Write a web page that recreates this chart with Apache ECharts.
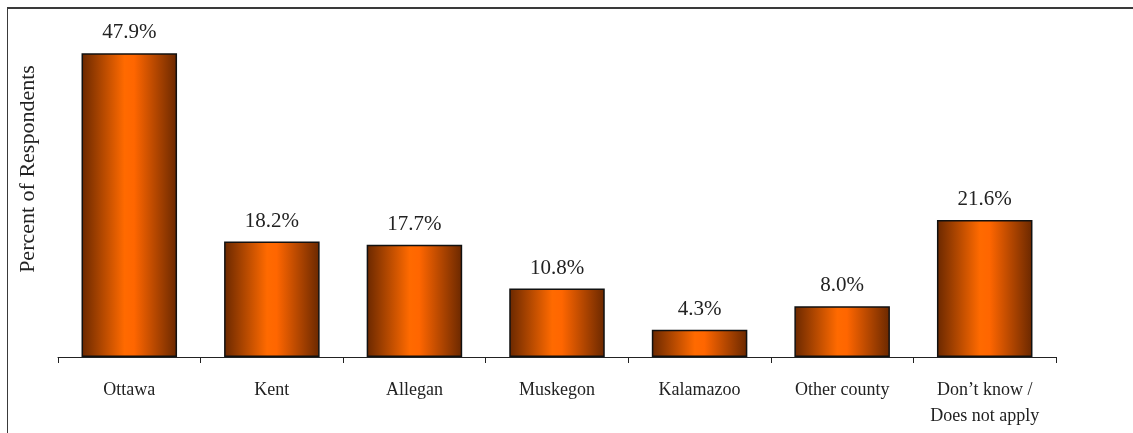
<!DOCTYPE html>
<html>
<head>
<meta charset="utf-8">
<script src="https://cdn.jsdelivr.net/npm/echarts@6/dist/echarts.min.js"></script>
<style>
  html, body { margin: 0; padding: 0; background: #fff; }
  #chart { width: 1133px; height: 433px; }
</style>
</head>
<body>
<div id="chart"></div>
<script>
// Données
const categories = ['Ottawa', 'Kent', 'Allegan', 'Muskegon', 'Kalamazoo', 'Other county', 'Don\u2019t know /\nDoes not apply'];
const pourcentages = [47.9, 18.2, 17.7, 10.8, 4.3, 8.0, 21.6];
const titreAxeY = 'Percent of Respondents';

const police = 'Liberation Serif';

const chart = echarts.init(document.getElementById('chart'));
const option = {
    backgroundColor: '#fff',
    animation: false,
    grid: { left: 58, right: 77, top: 40, bottom: 76 },
    graphic: [
        // cadre (haut et gauche)
        { type: 'line', shape: { x1: 7, y1: 8, x2: 1133, y2: 8 }, style: { stroke: '#3a3a3a', lineWidth: 2 } },
        { type: 'line', shape: { x1: 7.5, y1: 8, x2: 7.5, y2: 433 }, style: { stroke: '#3a3a3a', lineWidth: 1 } },
        {
            type: 'text', x: 28, y: 169, rotation: Math.PI / 2,
            style: { text: titreAxeY, font: '22px "' + police + '"', fill: '#222', align: 'center', verticalAlign: 'middle' }
        }
    ],
    xAxis: {
        type: 'category',
        data: categories,
        axisLine: { lineStyle: { color: '#222', width: 1 } },
        axisTick: { show: true, length: 6, lineStyle: { color: '#222' } },
        axisLabel: { color: '#222', fontFamily: police, fontSize: 18, margin: 20, lineHeight: 26, interval: 0 }
    },
    yAxis: {
        type: 'value',
        min: 0, max: 50,
        axisLine: { show: false },
        axisTick: { show: false },
        axisLabel: { show: false },
        splitLine: { show: false }
    },
    series: [{
        type: 'bar',
        data: pourcentages,
        barWidth: '67%',
        itemStyle: {
            borderColor: '#111',
            borderWidth: 1.5,
            color: {
                type: 'linear', x: 0, y: 0, x2: 1, y2: 0,
                colorStops: [
                    { offset: 0, color: '#6a2800' },
                    { offset: 0.45, color: '#ff6a00' },
                    { offset: 0.55, color: '#ff6600' },
                    { offset: 1, color: '#6a2800' }
                ]
            }
        },
        label: {
            show: true, position: 'top', distance: 10,
            color: '#222', fontFamily: police, fontSize: 21,
            formatter: p => p.value.toFixed(1) + '%'
        }
    }]
};
chart.setOption(option);
</script>
</body>
</html>
